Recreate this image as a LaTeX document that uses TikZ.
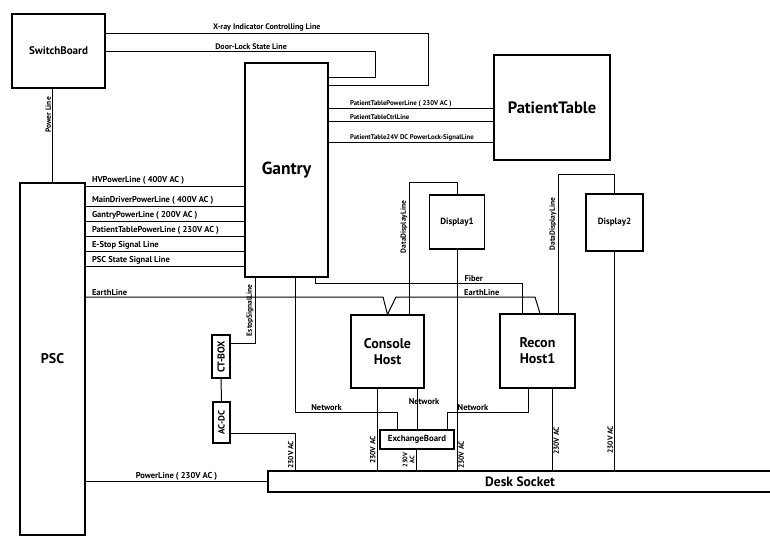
\documentclass[tikz,border=0pt]{standalone}
\usepackage{fontspec}
\setmainfont{PT Sans}
\usepackage{tikz}
\usetikzlibrary{calc,positioning}

\begin{document}
\begin{tikzpicture}[
    x=1pt, y=-1pt,
    unit/.style={rectangle, draw, line width=1.1pt, align=center, inner sep=1pt,
                 font=\fontsize{11}{13}\selectfont\bfseries},
    small/.style={unit, font=\fontsize{9}{10}\selectfont\bfseries},
    wire/.style={line width=1pt},
    lbl/.style={font=\fontsize{8.5}{9}\selectfont\bfseries, inner sep=1pt},
    tlbl/.style={font=\fontsize{8}{9}\selectfont\bfseries, inner sep=1pt},
    slbl/.style={font=\fontsize{6.8}{7}\selectfont\bfseries, inner sep=1pt},
    vlbl/.style={font=\fontsize{7.5}{8}\selectfont\bfseries, inner sep=1pt, rotate=90},
]
    \useasboundingbox (0,0) rectangle (770,538);

    \node[unit, minimum width=93pt, minimum height=74pt] (sb) at (58.5,51) {SwitchBoard};
    \node[unit, minimum width=65pt, minimum height=352pt, font=\fontsize{14}{16}\selectfont\bfseries] (psc) at (52.5,359) {PSC};
    \node[unit, minimum width=83pt, minimum height=214pt, font=\fontsize{17.5}{19}\selectfont\bfseries] (gantry) at (286.5,170) {Gantry};
    \node[unit, minimum width=116pt, minimum height=105pt, font=\fontsize{16.5}{18}\selectfont\bfseries] (ptable) at (552,107.5) {PatientTable};
    \node[small, minimum width=55pt, minimum height=54pt] (disp1) at (457,222) {Display1};
    \node[small, minimum width=57pt, minimum height=57pt] (disp2) at (614.5,222.5) {Display2};
    \node[unit, minimum width=73pt, minimum height=73pt, font=\fontsize{14}{16}\selectfont\bfseries] (console) at (387.5,351.5) {Console\\Host};
    \node[unit, minimum width=75pt, minimum height=74pt, font=\fontsize{14}{16}\selectfont\bfseries] (recon) at (537.5,351) {Recon\\Host1};
    \node[small, rotate=90, minimum width=43pt, minimum height=18pt, font=\fontsize{10}{11}\selectfont\bfseries] (ctbox) at (221,356.5) {CT-BOX};
    \node[small, rotate=90, minimum width=41pt, minimum height=17pt] (acdc) at (221.5,422.5) {AC-DC};
    \node[small, minimum width=74pt, minimum height=19pt, font=\fontsize{8.8}{9}\selectfont\bfseries] (exch) at (417,439.5) {ExchangeBoard};
    \node[unit, minimum width=504pt, minimum height=21pt, font=\fontsize{13.5}{15}\selectfont\bfseries] (desk) at (520,481.5) {Desk Socket};

    \draw[wire] (sb.east |- 0,33) -- node[tlbl, above] (xray) {X-ray Indicator Controlling Line} (428,33) |- (gantry.east |- 0,85);
    \draw[wire] (sb.east |- 0,51) -- node[tlbl, above, pos=0.54] (doorlock) {Door-Lock State Line} (375,51) |- (gantry.east |- 0,77);
    \draw[wire] (psc.north) -- node[vlbl, above, pos=0.72] (pwrline) {Power Line} (psc.north |- sb.south);

    \foreach \y/\t [count=\i] in {186/HVPowerLine ( 400V AC ), 206/MainDriverPowerLine ( 400V AC ),
        221/GantryPowerLine ( 200V AC ), 236/PatientTablePowerLine ( 230V AC ),
        251/E-Stop Signal Line, 266/PSC State Signal Line}
        \draw[wire] (psc.east |- 0,\y) -- node[lbl, above right, pos=0, xshift=5pt] (psl\i) {\t} (gantry.west |- 0,\y);

    \foreach \y/\t [count=\i] in {108/PatientTablePowerLine ( 230V AC ), 121/PatientTableCtrlLine,
        142/PatientTable24V DC PowerLock-SignalLine}
        \draw[wire] (gantry.east |- 0,\y) -- node[slbl, above right, pos=0, xshift=20pt] (ptl\i) {\t} (ptable.west |- 0,\y);

    \draw[wire] (psc.east |- 0,297) -- node[lbl, above right, pos=0, xshift=5pt] (earth1) {EarthLine} (383,297)
        -- (console.north) -- (396,297) -- node[lbl, above right, pos=0.48] (earth2) {EarthLine} (535,297)
        -- (recon.north -| 540,0);
    \draw[wire] (gantry.south -| 315,0) -- (315,283) -- node[lbl, above right, pos=0.715] (fiber) {Fiber} (522,283)
        -- (recon.north -| 522,0);

    \draw[wire] (gantry.south -| 255,0) -- node[vlbl, above, pos=0.5] (estop) {EstopSignalLine} (255,343)
        -- (ctbox.south |- 0,343);
    \draw[wire] (ctbox.west) -- (acdc.east);
    \draw[wire] (acdc.south |- 0,433) -- (295,433) -- node[vlbl, above, pos=0.58] (acpwr) {230V AC} (desk.north -| 295,0);

    \draw[wire] (gantry.south -| 295,0) -- (295,412) -- node[lbl, above, pos=0.31] (net1) {Network} (397,412)
        -- (exch.north -| 397,0);
    \draw[wire] (console.south -| 417,0) -- node[lbl, pos=0.33, xshift=7pt] (net2) {Network} (exch.north -| 417,0);
    \draw[wire] (recon.south -| 528,0) -- (528,412) -- node[lbl, above, pos=0.68] (net3) {Network} (447,412)
        -- (exch.north -| 447,0);

    \draw[wire] (disp1.north) -- (disp1.north |- 0,182) -| node[vlbl, above, pos=0.67] (dd1) {DataDisplayLine} (console.north -| 409,0);
    \draw[wire] (disp2.north) -- (disp2.north |- 0,174) -| node[vlbl, above, pos=0.68] (dd2) {DataDisplayLine} (recon.north -| 558,0);

    \draw[wire] (disp1.south) -- node[vlbl, below, pos=0.93] (pw1) {230V AC} (disp1.south |- desk.north);
    \draw[wire] (disp2.south) -- node[vlbl, above, pos=0.86] (pw2) {230V AC} (disp2.south |- desk.north);
    \draw[wire] (recon.south -| 552,0) -- node[vlbl, below, pos=0.64] (pw3) {230V AC} (desk.north -| 552,0);
    \draw[wire] (console.south -| 377,0) -- node[vlbl, above, pos=0.75] (pw4) {230V AC} (desk.north -| 377,0);
    \draw[wire] (exch.south -| 416,0) -- node[vlbl, above, align=center, pos=0.5, font=\fontsize{6.5}{7}\selectfont\bfseries] (pw5) {230V\\AC} (desk.north -| 416,0);

    \draw[wire] (psc.east |- desk.west) -- node[lbl, above] (pl230) {PowerLine ( 230V AC )} (desk.west);
\end{tikzpicture}
\end{document}
